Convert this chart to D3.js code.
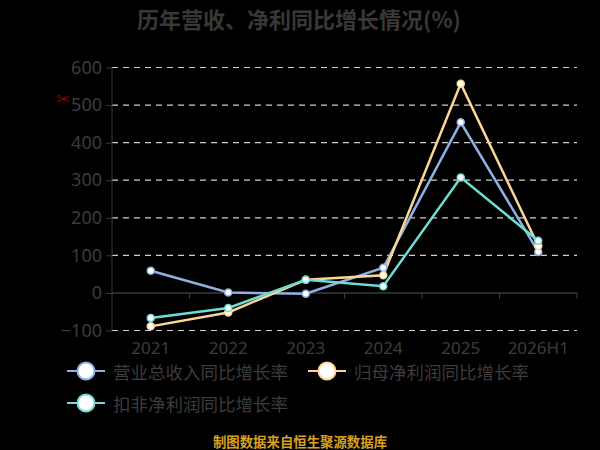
<!DOCTYPE html>
<html>
<head>
<meta charset="utf-8">
<script src="https://cdn.jsdelivr.net/npm/d3@7"></script>
<style>
  html, body { margin: 0; padding: 0; background: #000; }
  svg { display: block; font-family: "Noto Sans CJK SC", "Noto Sans", sans-serif; }
</style>
</head>
<body>
<div id="vis-display"></div>
<script>
// Year-on-year growth of revenue and net profit, three line series on a dark background.

const CATEGORIES = ["2021", "2022", "2023", "2024", "2025", "2026H1"];
const Y_TICKS    = [-100, 0, 100, 200, 300, 400, 500, 600];

const REVENUE_GROWTH    = [59, 1, -2, 67, 454, 109];
const NET_PROFIT_GROWTH = [-89, -52, 35, 47, 557, 125];
const DEDUCTED_GROWTH   = [-67, -40, 35, 18, 307, 139];

const SERIES = [
  { name: "营业总收入同比增长率", values: REVENUE_GROWTH,    color: "#8fb0e2" },
  { name: "归母净利润同比增长率", values: NET_PROFIT_GROWTH, color: "#fcd692" },
  { name: "扣非净利润同比增长率", values: DEDUCTED_GROWTH,   color: "#70dad5" },
];

const W = 600, H = 450;
const margin = { top: 67, right: 23, bottom: 120, left: 112 };
const innerW = W - margin.left - margin.right;

const svg = d3.select("#vis-display").append("svg")
  .attr("width", W)
  .attr("height", H);

svg.append("rect").attr("width", W).attr("height", H).attr("fill", "#000");

// ── Title ─────────────────────────────────────────────────────────────────

svg.append("text")
  .attr("x", 299).attr("y", 18)
  .attr("text-anchor", "middle")
  .attr("dominant-baseline", "central")
  .style("font-size", "22px")
  .style("font-weight", "bold")
  .style("fill", "#383838")
  .text("历年营收、净利同比增长情况(%)");

// ── Scales ────────────────────────────────────────────────────────────────

const x = d3.scaleBand()
  .domain(CATEGORIES)
  .range([margin.left, margin.left + innerW]);

const y = d3.scaleLinear()
  .domain([-100, 600])
  .range([330.5, 67.5]);

// Grid lines (dashed)
svg.append("g")
  .selectAll("line")
  .data(Y_TICKS.filter(d => d !== 0))
  .join("line")
    .attr("x1", margin.left).attr("x2", margin.left + innerW)
    .attr("y1", d => y(d)).attr("y2", d => y(d))
    .attr("stroke", "#cfcfcf")
    .attr("stroke-width", 1.2)
    .attr("stroke-dasharray", "6,5");

// Y axis
const yAxis = svg.append("g")
  .attr("transform", `translate(${margin.left},0)`)
  .call(d3.axisLeft(y).tickValues(Y_TICKS).tickSize(6).tickPadding(4));
yAxis.select(".domain").attr("stroke", "#3a3a3a").attr("d", `M0,${y(-100)}V${y(600)}`);
yAxis.selectAll(".tick line").attr("stroke", "#3a3a3a");
yAxis.selectAll("text")
  .style("font-size", "18px")
  .style("fill", "#3c3c3c")
  .style("font-family", "'Noto Sans', sans-serif");

// X axis at zero line, ticks on band boundaries
const xAxisG = svg.append("g")
  .attr("transform", `translate(0,${y(0)})`);
xAxisG.append("line")
  .attr("x1", margin.left).attr("x2", margin.left + innerW)
  .attr("stroke", "#3a3a3a").attr("stroke-width", 1.5);
xAxisG.selectAll("line.tk")
  .data(CATEGORIES)
  .join("line")
    .attr("class", "tk")
    .attr("x1", d => x(d) + x.bandwidth()).attr("x2", d => x(d) + x.bandwidth())
    .attr("y1", 0).attr("y2", 6)
    .attr("stroke", "#3a3a3a");

svg.append("g")
  .selectAll("text")
  .data(CATEGORIES)
  .join("text")
    .attr("x", d => x(d) + x.bandwidth() / 2)
    .attr("y", 347)
    .attr("text-anchor", "middle")
    .attr("dominant-baseline", "central")
    .style("font-size", "17px")
    .style("fill", "#3c3c3c")
    .style("font-family", "'Noto Sans', sans-serif")
    .text(d => d);

// small red scissors glyph near the axis
svg.append("text")
  .attr("x", 63).attr("y", 99)
  .attr("text-anchor", "middle")
  .attr("dominant-baseline", "central")
  .style("font-size", "17px")
  .style("fill", "#8b0000")
  .style("font-family", "'DejaVu Sans', sans-serif")
  .text("✂");

// ── Lines ─────────────────────────────────────────────────────────────────

const line = d3.line()
  .x((d, i) => x(CATEGORIES[i]) + x.bandwidth() / 2)
  .y(d => y(d));

SERIES.forEach(s => {
  svg.append("path")
    .datum(s.values)
    .attr("d", line)
    .attr("fill", "none")
    .attr("stroke", s.color)
    .attr("stroke-width", 2.5);
});

SERIES.forEach(s => {
  svg.append("g")
    .selectAll("circle")
    .data(s.values)
    .join("circle")
      .attr("cx", (d, i) => x(CATEGORIES[i]) + x.bandwidth() / 2)
      .attr("cy", d => y(d))
      .attr("r", 3.5)
      .attr("fill", "#fff")
      .attr("stroke", s.color)
      .attr("stroke-width", 1.5);
});

// ── Legend ────────────────────────────────────────────────────────────────

const LEGEND_POS = [[67, 371], [308, 371], [67, 403]];

SERIES.forEach((s, i) => {
  const [lx, ly] = LEGEND_POS[i];
  const g = svg.append("g").attr("transform", `translate(${lx},${ly})`);
  g.append("line")
    .attr("x1", 0).attr("x2", 38)
    .attr("stroke", s.color).attr("stroke-width", 2);
  g.append("circle")
    .attr("cx", 19).attr("r", 8.5)
    .attr("fill", "#fff")
    .attr("stroke", s.color).attr("stroke-width", 2);
  g.append("text")
    .attr("x", 46).attr("y", 0)
    .attr("dominant-baseline", "central")
    .style("font-size", "17.5px")
    .style("fill", "#3c3c3c")
    .text(s.name);
});

// ── Footer ────────────────────────────────────────────────────────────────

svg.append("text")
  .attr("x", 300).attr("y", 441)
  .attr("text-anchor", "middle")
  .attr("dominant-baseline", "central")
  .style("font-size", "13.4px")
  .style("font-weight", "bold")
  .style("fill", "#d9a11f")
  .text("制图数据来自恒生聚源数据库");
</script>
</body>
</html>
